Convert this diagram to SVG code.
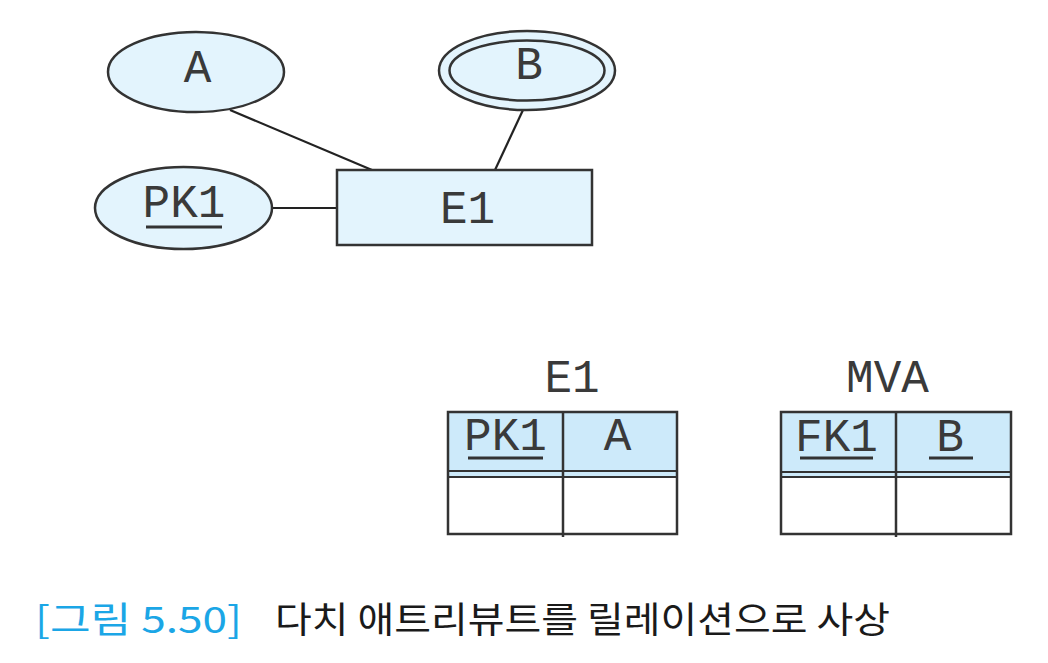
<svg xmlns="http://www.w3.org/2000/svg" width="1048" height="663" viewBox="0 0 1048 663">
<style>
.attr{fill:#e3f4fd;stroke:#333;stroke-width:2.5}
.ent{fill:#e3f4fd;stroke:#333;stroke-width:2.5}
.lbl{font-family:"Liberation Mono","Courier New",monospace;font-size:46px;fill:#3a3a3a;text-anchor:middle}
.ul{stroke:#333;stroke-width:3}
.conn{stroke:#222;stroke-width:2.2;fill:none}
.hdr{fill:#cdeafa;stroke:none}
.grid{stroke:#333;stroke-width:2.5;fill:none}
.thin{stroke:#333;stroke-width:2}
.cap{font-family:"Noto Sans CJK KR","Noto Sans",sans-serif;font-size:36px;font-weight:400}
</style>
<rect width="1048" height="663" fill="#ffffff"/>
<g id="connectors">
<line class="conn" x1="230" y1="110" x2="372" y2="170"/>
<line class="conn" x1="523" y1="110" x2="495" y2="170"/>
<line class="conn" x1="272" y1="208" x2="337" y2="208"/>
</g>
<g id="attr-A">
<ellipse class="attr" cx="196" cy="72" rx="88" ry="40"/>
<text class="lbl" x="197.5" y="82">A</text>
</g>
<g id="attr-B">
<ellipse class="attr" cx="527" cy="70.5" rx="88" ry="39.5"/>
<ellipse class="attr" cx="527" cy="70.5" rx="77.5" ry="30"/>
<text class="lbl" x="529" y="79">B</text>
</g>
<g id="attr-PK1">
<ellipse class="attr" cx="183.5" cy="208" rx="88.5" ry="41"/>
<text class="lbl" x="184" y="217">PK1</text>
<line class="ul" x1="146" y1="227" x2="222" y2="227"/>
</g>
<g id="entity-E1">
<rect class="ent" x="337" y="170" width="255" height="75"/>
<text class="lbl" x="467.5" y="223">E1</text>
</g>
<g id="table-E1">
<text class="lbl" x="572" y="392">E1</text>
<rect class="hdr" x="448" y="412" width="229" height="65"/>
<rect class="grid" x="448" y="412" width="229" height="122"/>
<line class="thin" x1="448" y1="471" x2="677" y2="471"/>
<line class="thin" x1="448" y1="477" x2="677" y2="477"/>
<line class="grid" x1="563" y1="412" x2="563" y2="537"/>
<text class="lbl" x="505.5" y="450">PK1</text>
<line class="ul" x1="468" y1="458" x2="543" y2="458"/>
<text class="lbl" x="617.5" y="450">A</text>
</g>
<g id="table-MVA">
<text class="lbl" x="887.5" y="392">MVA</text>
<rect class="hdr" x="781" y="412" width="230" height="65"/>
<rect class="grid" x="781" y="412" width="230" height="122"/>
<line class="thin" x1="781" y1="472" x2="1011" y2="472"/>
<line class="thin" x1="781" y1="477" x2="1011" y2="477"/>
<line class="grid" x1="896" y1="412" x2="896" y2="537"/>
<text class="lbl" x="836.5" y="451">FK1</text>
<line class="ul" x1="800" y1="458" x2="873" y2="458"/>
<text class="lbl" x="950" y="451">B</text>
<line class="ul" x1="929" y1="458" x2="973" y2="458"/>
</g>
<g id="caption">
<text class="cap" x="35" y="633" fill="#1ba6e6" textLength="207" lengthAdjust="spacingAndGlyphs">[그림 5.50]</text>
<text class="cap" x="275" y="633" fill="#1a1a1a" textLength="615" lengthAdjust="spacingAndGlyphs">다치 애트리뷰트를 릴레이션으로 사상</text>
</g>
</svg>
